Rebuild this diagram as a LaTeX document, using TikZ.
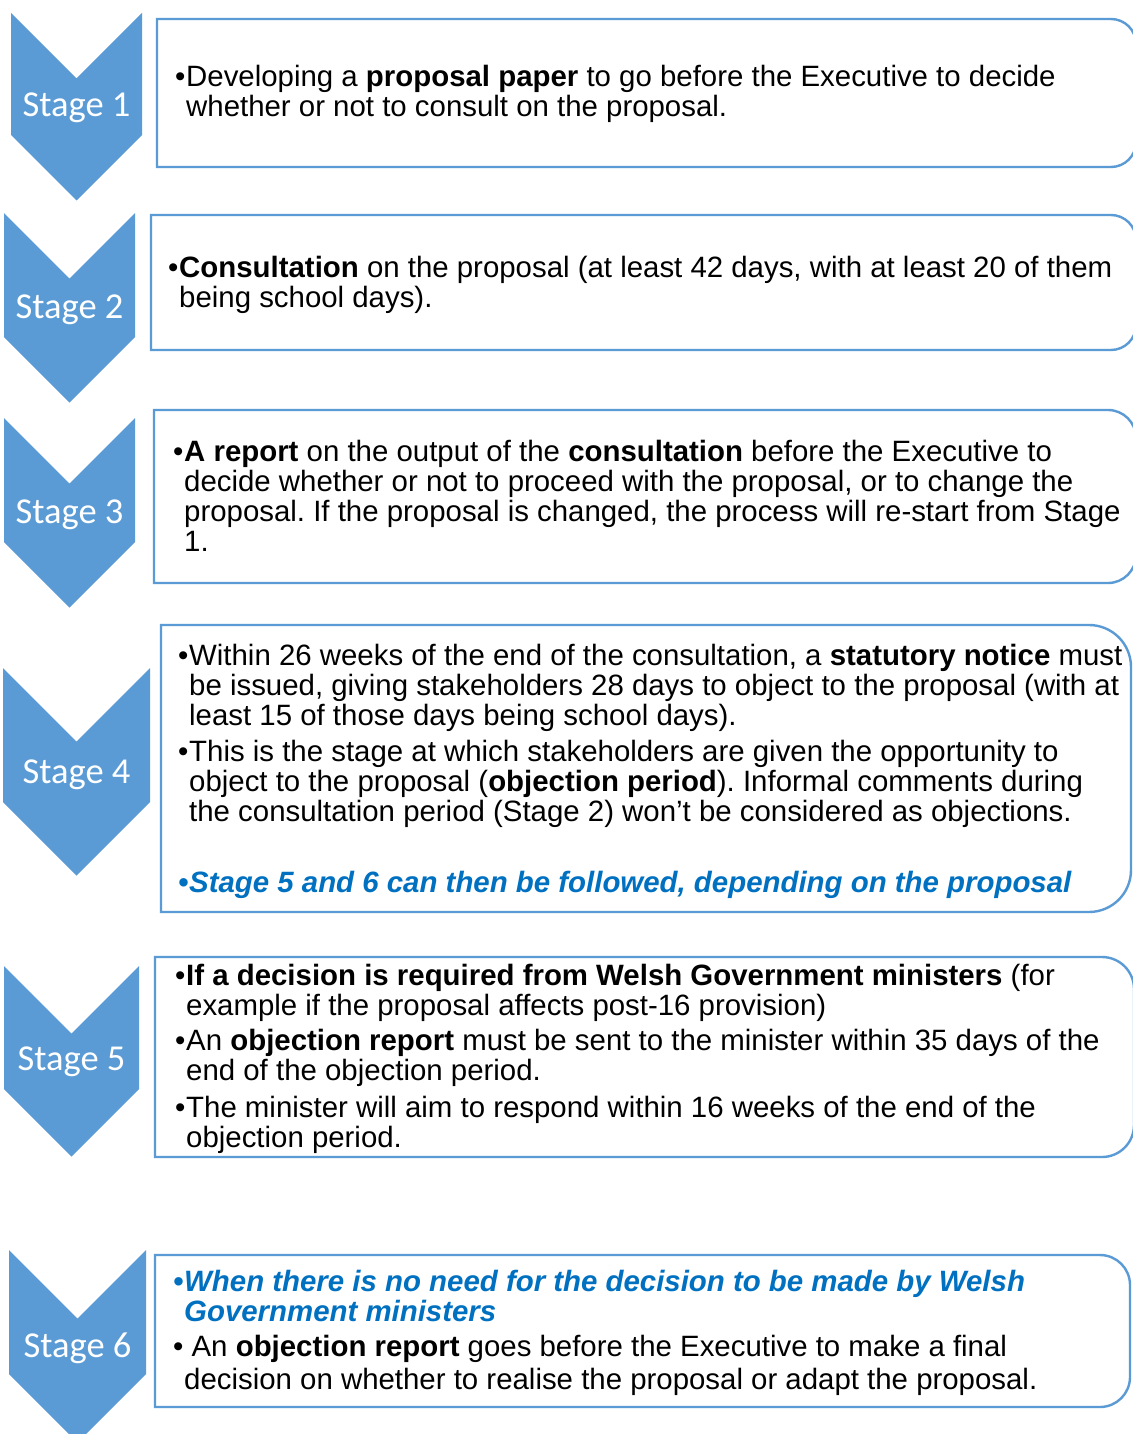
\documentclass[tikz,border=0pt]{standalone}
\usepackage{fontspec}
\setmainfont{Liberation Sans}
\newfontfamily\stagefont{Carlito}
\usetikzlibrary{positioning}

\definecolor{stageblue}{HTML}{5B9BD5}
\definecolor{noteblue}{HTML}{0070C0}

\newcommand{\bl}{\makebox[11pt][l]{\textbullet}}
\newcommand{\ind}{\hspace*{11pt}}
\newcommand{\note}[1]{{\color{noteblue}\bfseries\itshape #1}}
\frenchspacing

\begin{document}
\begin{tikzpicture}[x=1pt, y=-1pt,
    chevron/.style={fill=stageblue, draw=none},
    stagelbl/.style={anchor=base, text=white, inner sep=0pt, font=\stagefont\fontsize{36.5}{40}\selectfont},
    panel/.style={draw=stageblue, line width=2.4pt, fill=white},
    txt/.style={anchor=base west, align=left, inner sep=0pt, font=\fontsize{29.4}{30}\selectfont}
]
\useasboundingbox[fill=white] (0,0) rectangle (1132,1434);

% chevrons: left/right edge, top, shoulder, label baseline
\foreach \n/\l/\r/\t/\s/\lb in {1/11/142/13/135/117, 2/4/135/213/337/318, 3/4/135/418/542/523,
                                4/3/150/668/802/783, 5/4/139/966/1089/1070, 6/9/146/1250/1374/1357}{
  \fill[chevron] (\l,\t) -- ({(\l+\r)/2},{\t+(\r-\l)/2}) -- (\r,\t) -- (\r,\s)
      -- ({(\l+\r)/2},{\s+(\r-\l)/2}) -- (\l,\s) -- cycle;
  \node[stagelbl] (s\n) at ({(\l+\r)/2},\lb) {Stage \n};
}

% text panels, square on the left and rounded on the right
\foreach \l/\t/\r/\b/\rad in {157/19/1136/167/25, 151/215/1136/350/25, 154/410/1136/583/28,
                              161/625/1131/912/42, 155/957/1134/1157/32, 155/1255/1130/1407/30}{
  \draw[panel] (\l,\b) -- (\l,\t) [rounded corners=\rad pt] -- (\r,\t) -- (\r,\b) [sharp corners] -- cycle;
}

% text nodes sit on the baseline of their last line
\node[txt] (t1) at (175,117) {\bl Developing a \textbf{proposal paper} to go before the Executive to decide\\
  \ind whether or not to consult on the proposal.};

\node[txt] (t2) at (168,307) {\bl\textbf{Consultation} on the proposal (at least 42 days, with at least 20 of them\\
  \ind being school days).};

\node[txt] (t3) at (173,551) {\bl\textbf{A report} on the output of the \textbf{consultation} before the Executive to\\
  \ind decide whether or not to proceed with the proposal, or to change the\\
  \ind proposal. If the proposal is changed, the process will re-start from Stage\\
  \ind 1.};

\node[txt] (t4) at (178,892) {\bl Within 26 weeks of the end of the consultation, a \textbf{statutory notice} must\\
  \ind be issued, giving stakeholders 28 days to object to the proposal (with at\\
  \ind least 15 of those days being school days).\\[6pt]
  \bl This is the stage at which stakeholders are given the opportunity to\\
  \ind object to the proposal (\textbf{objection period}). Informal comments during\\
  \ind the consultation period (Stage 2) won't be considered as objections.\\[41pt]
  \note{\bl Stage 5 and 6 can then be followed, depending on the proposal}};

\node[txt] (t5) at (175,1147) {\bl\textbf{If a decision is required from Welsh Government ministers} (for\\
  \ind example if the proposal affects post-16 provision)\\[5pt]
  \bl An \textbf{objection report} must be sent to the minister within 35 days of the\\
  \ind end of the objection period.\\[7pt]
  \bl The minister will aim to respond within 16 weeks of the end of the\\
  \ind objection period.};

\node[txt] (t6) at (173,1389) {\note{\bl When there is no need for the decision to be made by Welsh}\\
  \ind\note{Government ministers}\\[5pt]
  \textbullet\ An \textbf{objection report} goes before the Executive to make a final\\[3pt]
  \ind decision on whether to realise the proposal or adapt the proposal.};
\end{tikzpicture}
\end{document}
